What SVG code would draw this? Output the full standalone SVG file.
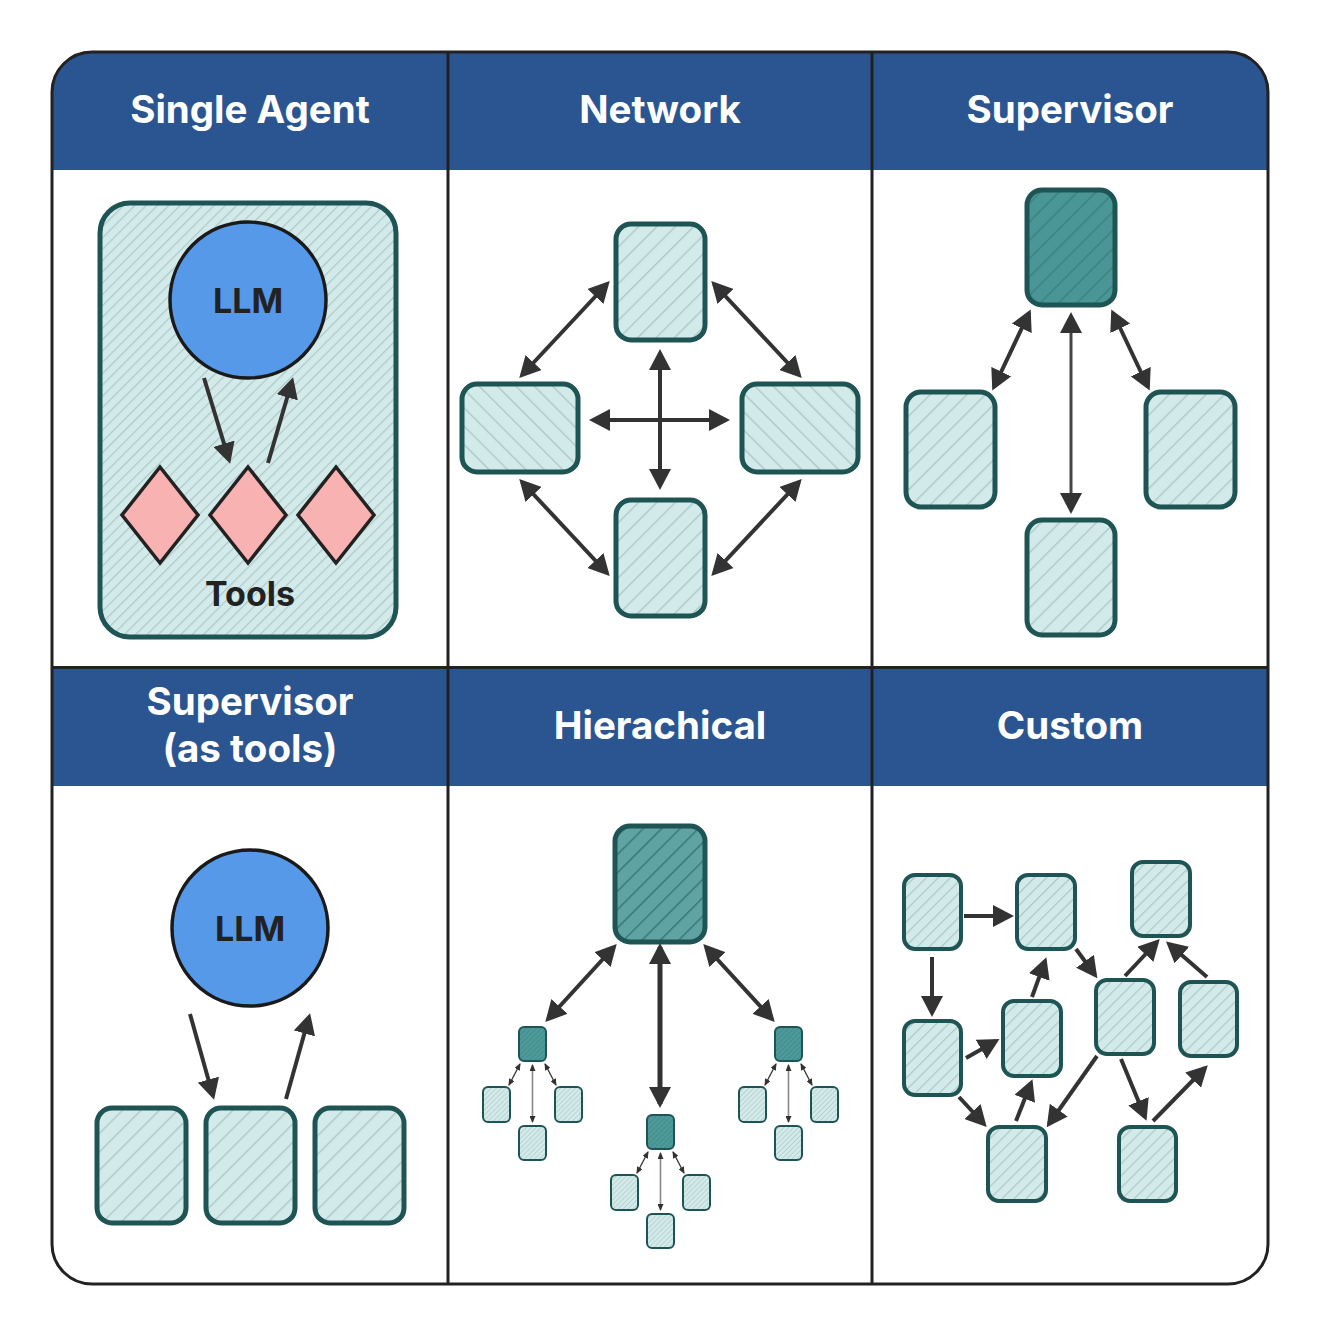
<svg xmlns="http://www.w3.org/2000/svg" width="1320" height="1336" viewBox="0 0 1320 1336">
<style>
.hdr{fill:#2B5590}
.ht{font-family:Inter,"Liberation Sans",sans-serif;font-weight:700;font-size:38.5px;fill:#ffffff;text-anchor:middle}
.nt{font-family:Inter,"Liberation Sans",sans-serif;font-weight:700;font-size:34px;fill:#222222;text-anchor:middle}
.div{stroke:#222222;stroke-width:3;fill:none}
.n{fill:url(#h);stroke:#1F5454;stroke-width:5}
.nn{fill:url(#hn);stroke:#1F5454;stroke-width:5}
.nc{fill:url(#hc);stroke:#1F5454;stroke-width:4}
.nd{fill:url(#hd);stroke:#1F5454;stroke-width:5}
.nd2{fill:url(#hd2);stroke:#1F5454;stroke-width:5}
.ns{fill:url(#hs);stroke:#1F5454;stroke-width:2}
.nsd{fill:url(#hsd);stroke:#1F5454;stroke-width:2}
.llm{fill:#5599E8;stroke:#1a1a1a;stroke-width:3.5}
.tool{fill:#F9B2B2;stroke:#222222;stroke-width:3.5}
.a{stroke:#333333;stroke-width:4;fill:none;marker-end:url(#ah)}
.a2{stroke:#333333;stroke-width:4;fill:none;marker-start:url(#ah);marker-end:url(#ah)}
.as{stroke:#333333;stroke-width:1.3;fill:none;marker-start:url(#sh);marker-end:url(#sh)}
.asg{stroke:#888888;stroke-width:1.6;fill:none;marker-start:url(#sh);marker-end:url(#sh)}
</style>
<defs>
<clipPath id="frame"><rect x="52" y="52" width="1216" height="1232" rx="40"/></clipPath>
<pattern id="h" width="13" height="13" patternUnits="userSpaceOnUse" patternTransform="rotate(45)"><rect width="13" height="13" fill="#D3EAEA"/><line x1="0.7" y1="0" x2="0.7" y2="13" stroke="#AEC7C7" stroke-width="1.4"/></pattern>
<pattern id="hn" width="13" height="13" patternUnits="userSpaceOnUse" patternTransform="rotate(-45)"><rect width="13" height="13" fill="#D3EAEA"/><line x1="0.7" y1="0" x2="0.7" y2="13" stroke="#AEC7C7" stroke-width="1.4"/></pattern>
<pattern id="hbig" width="8" height="8" patternUnits="userSpaceOnUse" patternTransform="rotate(45)"><rect width="8" height="8" fill="#D3EAEA"/><line x1="0.6" y1="0" x2="0.6" y2="8" stroke="#AEC7C7" stroke-width="1.2"/></pattern>
<pattern id="hc" width="8.5" height="8.5" patternUnits="userSpaceOnUse" patternTransform="rotate(45)"><rect width="8.5" height="8.5" fill="#D3EAEA"/><line x1="0.6" y1="0" x2="0.6" y2="8.5" stroke="#AEC7C7" stroke-width="1.2"/></pattern>
<pattern id="hs" width="3.5" height="3.5" patternUnits="userSpaceOnUse" patternTransform="rotate(45)"><rect width="3.5" height="3.5" fill="#D3EAEA"/><line x1="0.4" y1="0" x2="0.4" y2="3.5" stroke="#B5CDCD" stroke-width="0.8"/></pattern>
<pattern id="hd" width="13" height="13" patternUnits="userSpaceOnUse" patternTransform="rotate(45)"><rect width="13" height="13" fill="#4A9696"/><line x1="0.7" y1="0" x2="0.7" y2="13" stroke="#3A8080" stroke-width="1.4"/></pattern>
<pattern id="hd2" width="13" height="13" patternUnits="userSpaceOnUse" patternTransform="rotate(45)"><rect width="13" height="13" fill="#5FA3A3"/><line x1="0.7" y1="0" x2="0.7" y2="13" stroke="#347575" stroke-width="1.4"/></pattern>
<pattern id="hsd" width="3.5" height="3.5" patternUnits="userSpaceOnUse" patternTransform="rotate(45)"><rect width="3.5" height="3.5" fill="#4E9A9A"/><line x1="0.4" y1="0" x2="0.4" y2="3.5" stroke="#3F8888" stroke-width="0.8"/></pattern>
<marker id="ah" markerUnits="userSpaceOnUse" markerWidth="21" markerHeight="22" refX="17" refY="11" orient="auto-start-reverse"><path d="M0,0 L21,11 L0,22 z" fill="#333333"/></marker>
<marker id="sh" markerUnits="userSpaceOnUse" markerWidth="7" markerHeight="6" refX="6" refY="3" orient="auto-start-reverse"><path d="M0,0 L7,3 L0,6 z" fill="#333333"/></marker>
</defs>

<g id="frame-bg">
<rect x="52" y="52" width="1216" height="1232" rx="40" fill="#ffffff"/>
<g clip-path="url(#frame)">
<rect class="hdr" x="52" y="52" width="1216" height="118"/>
<rect class="hdr" x="52" y="669" width="1216" height="117"/>
</g>
</g>

<g id="headers">
<text class="ht" x="250" y="123">Single Agent</text>
<text class="ht" x="660" y="123">Network</text>
<text class="ht" x="1070" y="123">Supervisor</text>
<text class="ht" x="250" y="715">Supervisor</text>
<text class="ht" x="250" y="762">(as tools)</text>
<text class="ht" x="660" y="739">Hierachical</text>
<text class="ht" x="1070" y="739">Custom</text>
</g>

<g id="grid">
<line class="div" x1="448" y1="52" x2="448" y2="1284"/>
<line class="div" x1="872" y1="52" x2="872" y2="1284"/>
<line class="div" x1="52" y1="667.5" x2="1268" y2="667.5"/>
<rect x="52" y="52" width="1216" height="1232" rx="40" fill="none" stroke="#222222" stroke-width="3"/>
</g>

<!-- Single Agent -->
<g id="single-agent">
<rect x="100" y="203" width="296" height="434" rx="30" fill="url(#hbig)" stroke="#1F5454" stroke-width="5"/>
</g>
<g id="sa-llm">
<circle class="llm" cx="248" cy="300" r="78"/>
<text class="nt" x="248" y="313">LLM</text>
</g>
<g id="sa-tool1"><polygon class="tool" points="160,467 198,515 160,563 122,515"/></g>
<g id="sa-tool2"><polygon class="tool" points="248,467 286,515 248,563 210,515"/></g>
<g id="sa-tool3"><polygon class="tool" points="336,467 374,515 336,563 298,515"/></g>
<g id="sa-tools-label"><text class="nt" x="250" y="606">Tools</text></g>

<!-- Network -->
<g id="net-top"><rect class="n" x="616" y="224" width="89" height="116" rx="15"/></g>
<g id="net-left"><rect class="nn" x="462" y="384" width="116" height="88" rx="15"/></g>
<g id="net-right"><rect class="nn" x="742" y="384" width="116" height="88" rx="15"/></g>
<g id="net-bottom"><rect class="n" x="616" y="500" width="89" height="116" rx="15"/></g>

<!-- Supervisor -->
<g id="sup-top"><rect class="nd" x="1027" y="190" width="88" height="115" rx="15"/></g>
<g id="sup-left"><rect class="n" x="906" y="392" width="89" height="115" rx="15"/></g>
<g id="sup-right"><rect class="n" x="1146" y="392" width="89" height="115" rx="15"/></g>
<g id="sup-bottom"><rect class="n" x="1027" y="520" width="88" height="115" rx="15"/></g>

<!-- Supervisor (as tools) -->
<g id="st-llm">
<circle class="llm" cx="250" cy="928" r="78"/>
<text class="nt" x="250" y="941">LLM</text>
</g>
<g id="st-a1"><rect class="n" x="97" y="1108" width="89" height="115" rx="15"/></g>
<g id="st-a2"><rect class="n" x="206" y="1108" width="89" height="115" rx="15"/></g>
<g id="st-a3"><rect class="n" x="315" y="1108" width="89" height="115" rx="15"/></g>

<!-- Hierarchical -->
<g id="hi-top"><rect class="nd2" x="615" y="826" width="90" height="116" rx="15"/></g>
<g id="hi-l"><rect class="nsd" x="519" y="1027" width="27" height="34" rx="5"/></g>
<g id="hi-l1"><rect class="ns" x="483" y="1087" width="27" height="35" rx="5"/></g>
<g id="hi-l2"><rect class="ns" x="555" y="1087" width="27" height="35" rx="5"/></g>
<g id="hi-l3"><rect class="ns" x="519" y="1126" width="27" height="34" rx="5"/></g>
<g id="hi-m"><rect class="nsd" x="647" y="1115" width="27" height="34" rx="5"/></g>
<g id="hi-m1"><rect class="ns" x="611" y="1175" width="27" height="35" rx="5"/></g>
<g id="hi-m2"><rect class="ns" x="683" y="1175" width="27" height="35" rx="5"/></g>
<g id="hi-m3"><rect class="ns" x="647" y="1214" width="27" height="34" rx="5"/></g>
<g id="hi-r"><rect class="nsd" x="775" y="1027" width="27" height="34" rx="5"/></g>
<g id="hi-r1"><rect class="ns" x="739" y="1087" width="27" height="35" rx="5"/></g>
<g id="hi-r2"><rect class="ns" x="811" y="1087" width="27" height="35" rx="5"/></g>
<g id="hi-r3"><rect class="ns" x="775" y="1126" width="27" height="34" rx="5"/></g>

<!-- Custom -->
<g id="cu-a"><rect class="nc" x="904" y="875" width="57" height="74" rx="11"/></g>
<g id="cu-b"><rect class="nc" x="1017" y="875" width="58" height="74" rx="11"/></g>
<g id="cu-c"><rect class="nc" x="1132" y="862" width="58" height="74" rx="11"/></g>
<g id="cu-d"><rect class="nc" x="904" y="1021" width="57" height="74" rx="11"/></g>
<g id="cu-e"><rect class="nc" x="1003" y="1001" width="58" height="75" rx="11"/></g>
<g id="cu-f"><rect class="nc" x="1096" y="980" width="58" height="74" rx="11"/></g>
<g id="cu-g"><rect class="nc" x="1180" y="982" width="57" height="74" rx="11"/></g>
<g id="cu-h"><rect class="nc" x="988" y="1127" width="58" height="74" rx="11"/></g>
<g id="cu-i"><rect class="nc" x="1119" y="1127" width="57" height="74" rx="11"/></g>

<g id="connectors">
<!-- single agent -->
<path class="a" d="M204,378 L229,460"/>
<path class="a" d="M268,463 L292,381"/>
<!-- network -->
<path class="a2" d="M522,375 L607,284"/>
<path class="a2" d="M714,284 L799,375"/>
<path class="a2" d="M522,482 L607,573"/>
<path class="a2" d="M714,573 L799,482"/>
<path class="a2" d="M593,420 L726,420"/>
<path class="a2" d="M660,353 L660,486"/>
<!-- supervisor -->
<path class="a2" d="M1029,313 L994,387"/>
<path class="a2" d="M1113,313 L1148,387" />
<path class="a2" d="M1071,316 L1071,510" style="stroke:#444444;stroke-width:3"/>
<!-- supervisor as tools -->
<path class="a" d="M190,1014 L213,1096"/>
<path class="a" d="M286,1099 L309,1017"/>
<!-- hierarchical -->
<path class="a2" d="M614,947 L548,1019"/>
<path class="a2" d="M706,947 L772,1019"/>
<path class="a2" d="M660,947 L660,1104" style="stroke-width:5"/>
<path class="as" d="M509,1085 L520,1064"/>
<path class="asg" d="M532.5,1065 L532.5,1122"/>
<path class="as" d="M545,1064 L556,1085"/>
<path class="as" d="M637,1173 L648,1152"/>
<path class="asg" d="M660.5,1153 L660.5,1210"/>
<path class="as" d="M673,1152 L684,1173"/>
<path class="as" d="M765,1085 L776,1064"/>
<path class="asg" d="M788.5,1065 L788.5,1122"/>
<path class="as" d="M801,1064 L812,1085"/>
<!-- custom -->
<path class="a" d="M964,916 L1010,916"/>
<path class="a" d="M932,957 L932,1013"/>
<path class="a" d="M1076,949 L1095,975"/>
<path class="a" d="M1125,976 L1157,942"/>
<path class="a" d="M1207,977 L1169,944"/>
<path class="a" d="M966,1058 L996,1041"/>
<path class="a" d="M1032,997 L1045,961"/>
<path class="a" d="M959,1097 L984,1124"/>
<path class="a" d="M1016,1121 L1031,1083"/>
<path class="a" d="M1097,1056 L1049,1124"/>
<path class="a" d="M1121,1059 L1145,1117"/>
<path class="a" d="M1153,1121 L1205,1068"/>
</g>
</svg>
